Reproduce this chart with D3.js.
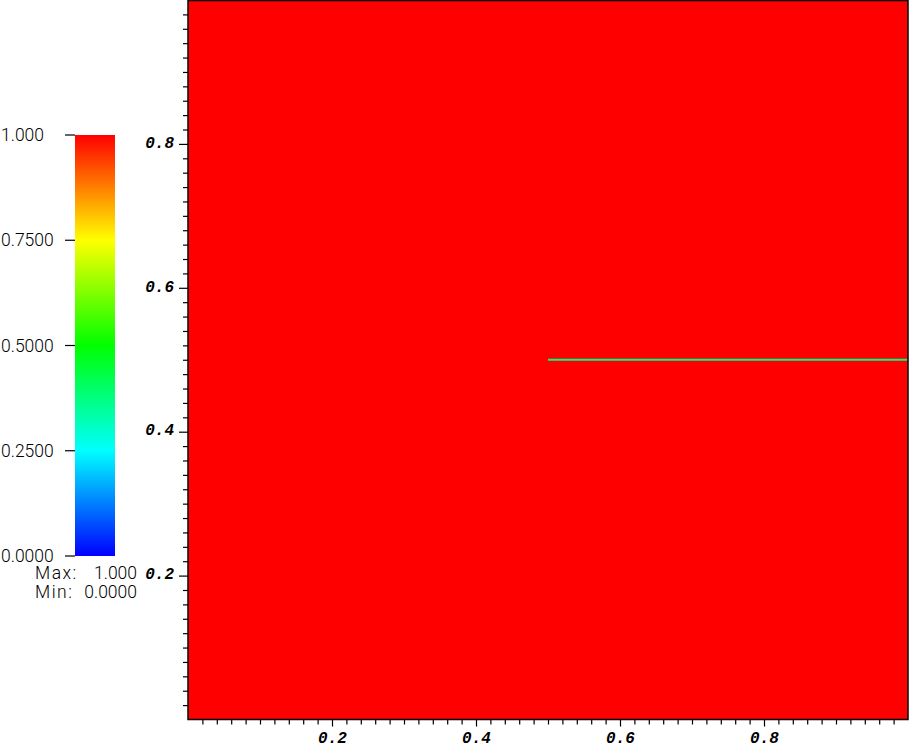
<!DOCTYPE html>
<html>
<head>
<meta charset="utf-8">
<script src="https://cdn.jsdelivr.net/npm/d3@7"></script>
<style>
  body { margin: 0; background: #fff; }
  svg { display: block; }
  .axis text { font-family: "Liberation Mono", "DejaVu Sans Mono", monospace; font-weight: bold; font-style: italic; font-size: 16px; fill: #000; }
  .cbar text { font-family: Roboto, "Liberation Sans", sans-serif; font-weight: 300; font-size: 17.5px; fill: #000; }
</style>
</head>
<body>
<script>
// field values
var fieldValue = 1.0;                 // whole domain is at max
var segX = [0.5, 1.0], segY = 0.5;    // thin interface line
var segValue = 0.375;

var axisTicks = [0.2, 0.4, 0.6, 0.8];
var barTicks = [0, 0.25, 0.5, 0.75, 1];
var barLabels = ["0.0000", "0.2500", "0.5000", "0.7500", "1.000"];
var rangeNames = ["Max:", "Min:"];
var rangeValues = ["1.000", "0.0000"];

var width = 909, height = 746;

var svg = d3.select("body").append("svg")
    .attr("width", width)
    .attr("height", height);

var x = d3.scaleLinear().domain([0, 1]).range([188, 908]);
var y = d3.scaleLinear().domain([0, 1]).range([719.5, 0]);

// rainbow lookup (blue -> red)
var color = d3.scaleLinear()
    .domain([0, 0.25, 0.5, 0.75, 1])
    .range(["#0000ff", "#00ffff", "#00ff00", "#ffff00", "#ff0000"]);

// field
svg.append("rect")
    .attr("x", x(0)).attr("y", y(1))
    .attr("width", x(1) - x(0)).attr("height", y(0) - y(1))
    .attr("fill", color(fieldValue));

svg.append("line")
    .attr("x1", x(segX[0])).attr("x2", x(segX[1]))
    .attr("y1", y(segY)).attr("y2", y(segY))
    .attr("stroke", color(segValue))
    .attr("stroke-width", 2);

// frame
svg.append("rect")
    .attr("x", x(0)).attr("y", y(1) + 0.5)
    .attr("width", x(1) - x(0)).attr("height", y(0) - y(1) - 0.5)
    .attr("fill", "none")
    .attr("stroke", "#000")
    .attr("stroke-width", 1.5);

// minor ticks every 0.02
var minor = d3.range(1, 50).map(function(i) { return i / 50; })
    .filter(function(v) { return axisTicks.indexOf(Math.round(v * 100) / 100) < 0; });

var yMinor = d3.axisLeft(y).tickValues(minor).tickSize(5).tickFormat("");
var xMinor = d3.axisBottom(x).tickValues(minor).tickSize(5).tickFormat("");
var yAxis = d3.axisLeft(y).tickValues(axisTicks).tickSize(9).tickPadding(5).tickFormat(d3.format(".1f"));
var xAxis = d3.axisBottom(x).tickValues(axisTicks).tickSize(7).tickPadding(5).tickFormat(d3.format(".1f"));

[[yMinor, "translate(188,0)"], [yAxis, "translate(188,0)"],
 [xMinor, "translate(0,719.5)"], [xAxis, "translate(0,719.5)"]].forEach(function(a) {
  var g = svg.append("g")
      .attr("class", "axis")
      .attr("transform", a[1])
      .call(a[0]);
  g.select(".domain").remove();
  g.selectAll(".tick line").attr("stroke", "#000").attr("stroke-width", 1.2);
});
svg.selectAll(".axis text").attr("font-family", null);
// labels on the left sit slightly above their tick
svg.selectAll(".axis .tick text").filter(function() { return this.getAttribute("x") < 0; })
    .attr("dy", "0.2em");

// colour bar
var cb = svg.append("g").attr("class", "cbar");
var cy = d3.scaleLinear().domain([0, 1]).range([556, 135]);

var grad = svg.append("defs").append("linearGradient")
    .attr("id", "rainbow")
    .attr("x1", 0).attr("y1", 1).attr("x2", 0).attr("y2", 0);
grad.selectAll("stop")
    .data(d3.range(0, 1.0001, 0.05))
  .enter().append("stop")
    .attr("offset", function(d) { return d; })
    .attr("stop-color", function(d) { return color(d); });

cb.append("rect")
    .attr("x", 75).attr("y", cy(1))
    .attr("width", 40).attr("height", cy(0) - cy(1))
    .attr("fill", "url(#rainbow)");

cb.selectAll("line.cbtick")
    .data(barTicks)
  .enter().append("line")
    .attr("class", "cbtick")
    .attr("x1", 65).attr("x2", 75)
    .attr("y1", function(d) { return cy(d); })
    .attr("y2", function(d) { return cy(d); })
    .attr("stroke", "#000")
    .attr("stroke-width", 1.2);

cb.selectAll("text.cblab")
    .data(barTicks)
  .enter().append("text")
    .attr("class", "cblab")
    .attr("x", 1)
    .attr("y", function(d) { return cy(d) + 6; })
    .text(function(d, i) { return barLabels[i]; });

cb.selectAll("text.rname")
    .data(rangeNames)
  .enter().append("text")
    .attr("class", "rname")
    .attr("x", 35)
    .attr("y", function(d, i) { return 579 + i * 19; })
    .style("letter-spacing", "1.5px")
    .text(function(d) { return d; });

cb.selectAll("text.rval")
    .data(rangeValues)
  .enter().append("text")
    .attr("class", "rval")
    .attr("x", 137)
    .attr("text-anchor", "end")
    .attr("y", function(d, i) { return 579 + i * 19; })
    .text(function(d) { return d; });
</script>
</body>
</html>
